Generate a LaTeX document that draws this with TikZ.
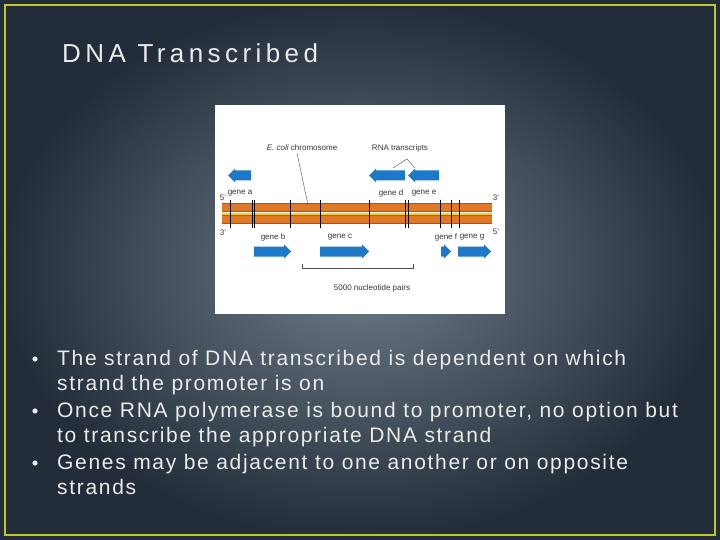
\documentclass[tikz,border=0pt]{standalone}
\usepackage{fontspec}
\setmainfont{Liberation Sans}
\newfontfamily\spaced[LetterSpace=8]{Liberation Sans}
\newfontfamily\tspaced[LetterSpace=17]{Liberation Sans}
\definecolor{strandc}{RGB}{225,120,40}
\definecolor{genec}{RGB}{30,120,200}
\definecolor{bgin}{RGB}{110,125,135}
\definecolor{bgout}{RGB}{35,45,58}
\definecolor{framec}{RGB}{190,200,40}
\begin{document}
\begin{tikzpicture}[x=1pt,y=-1pt,
  gfill/.style={fill=genec},
  lab/.style={font=\fontsize{8}{9}\selectfont, inner sep=0pt, text=black!80},
  bul/.style={font=\fontsize{21}{25.5}\spaced\selectfont, text=white!92!black, anchor=north west, align=left, inner sep=0pt}]
\useasboundingbox (0,0) rectangle (720,540);
\shade[inner color=bgin, outer color=bgout] (0,0) rectangle (720,540);
\draw[line width=2pt, draw=framec] (5,5) rectangle (715,535);
\node[font=\fontsize{26}{30}\tspaced\selectfont, text=white!92!black, anchor=west, inner sep=0pt] (title) at (62,53) {DNA Transcribed};
% figure
\fill[white] (215,105) rectangle (505,314);
\fill[strandc] (222,204) rectangle (492,212);
\fill[strandc] (222,216) rectangle (492,224);
\draw[black!60, line width=1pt] (222,204)--(492,204) (222,212)--(492,212) (222,216)--(492,216) (222,224)--(492,224);
\fill[yellow!70!orange] (222,213) rectangle (492,215.3);
\foreach \x in {230,252,254,290,320,369,405,408,440,451,459} \draw[black, line width=0.5pt] (\x,200)--(\x,228);
\foreach \a/\b/\y in {254/291/251.5, 320/369/251.5, 441/451/251.5, 458/491/251.5}
  \fill[gfill] (\a,\y-5) -- (\b-7,\y-5) -- (\b-7,\y-7) -- (\b,\y) -- (\b-7,\y+7) -- (\b-7,\y+5) -- (\a,\y+5) -- cycle;
\foreach \a/\b/\y in {228/251/175.5, 369/405/175.5, 408/439/175.5}
  \fill[gfill] (\b,\y-5) -- (\a+7,\y-5) -- (\a+7,\y-7) -- (\a,\y) -- (\a+7,\y+7) -- (\a+7,\y+5) -- (\b,\y+5) -- cycle;
\node[lab] (la) at (240,193) {gene a};
\node[lab] (ld) at (391,193) {gene d};
\node[lab] (le) at (424,193) {gene e};
\node[lab] (lb) at (273,237) {gene b};
\node[lab] (lc) at (340,237) {gene c};
\node[lab] (lf) at (446,237) {gene f};
\node[lab] (lg) at (472,237) {gene g};
\node[lab] (p5a) at (223,198) {5'};
\node[lab] (p3a) at (223,233) {3'};
\node[lab] (p3b) at (496,198) {3'};
\node[lab] (p5b) at (496,232) {5'};
\node[lab] (ec) at (302,148) {\textit{E. coli} chromosome};
\node[lab] (rna) at (400,148) {RNA transcripts};
\coordinate (ecstart) at (297,153);
\coordinate (ecend) at (308,205);
\draw[black!70, line width=0.4pt] (ecstart) -- (ecend);
\coordinate (rj) at (407,159);
\draw[black!70, line width=0.4pt] (393,168) -- (rj) -- (415,168);
\coordinate (b1) at (302,268); \coordinate (b2) at (413,268);
\draw[black!70, line width=0.5pt] ([yshift=4pt]b1) -- (b1) -- (b2) -- ([yshift=4pt]b2);
\node[lab] (np) at (372,288) {5000 nucleotide pairs};
% bullets
\node[bul] (t1) at (57,350) {The strand of DNA transcribed is dependent on which\\strand the promoter is on};
\node[bul] (t2) at (57,402) {Once RNA polymerase is bound to promoter, no option but\\to transcribe the appropriate DNA strand};
\node[bul] (t3) at (57,454) {Genes may be adjacent to one another or on opposite\\strands};
\foreach \y in {359,411,463} \fill[white!92!black] (35,\y) circle (2.6pt);
\end{tikzpicture}
\end{document}
